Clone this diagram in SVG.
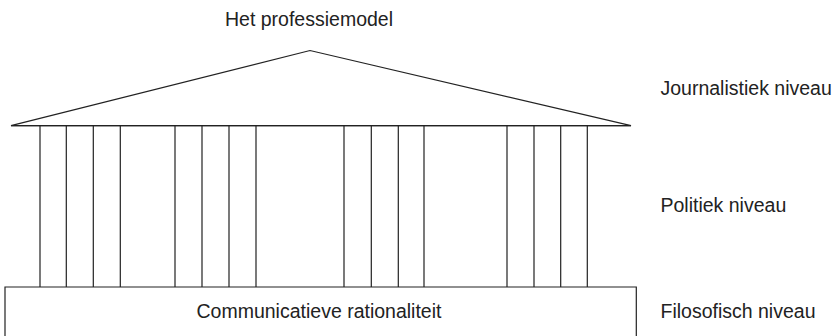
<svg xmlns="http://www.w3.org/2000/svg" width="839" height="336" viewBox="0 0 839 336">
<style>
.ln{fill:none;stroke:#222;stroke-width:1.2}
.t{font-family:"Liberation Sans",Arial,sans-serif;font-size:19.5px;fill:#222}
</style>
<rect width="839" height="336" fill="#fff"/>
<g id="roof">
<polygon class="ln" points="11,125.7 310,50.5 631,125.7"/>
<text class="t" x="309" y="26" text-anchor="middle">Het professiemodel</text>
</g>
<g id="columns" class="ln">
<line x1="11" y1="125.7" x2="631" y2="125.7"/>
<path d="M40,125.7V287M66.3,125.7V287M93.3,125.7V287M120.3,125.7V287M175,125.7V287M202,125.7V287M229,125.7V287M256,125.7V287M344,125.7V287M371.3,125.7V287M398.3,125.7V287M424,125.7V287M507,125.7V287M534,125.7V287M560.7,125.7V287M587.3,125.7V287"/>
</g>
<g id="base">
<polyline class="ln" points="5,337 5,287 636.3,287 636.3,337"/>
<text class="t" x="319" y="318" text-anchor="middle">Communicatieve rationaliteit</text>
</g>
<g id="levels">
<text class="t" x="660.5" y="95">Journalistiek niveau</text>
<text class="t" x="660.5" y="212">Politiek niveau</text>
<text class="t" x="660.5" y="317.5">Filosofisch niveau</text>
</g>
</svg>
